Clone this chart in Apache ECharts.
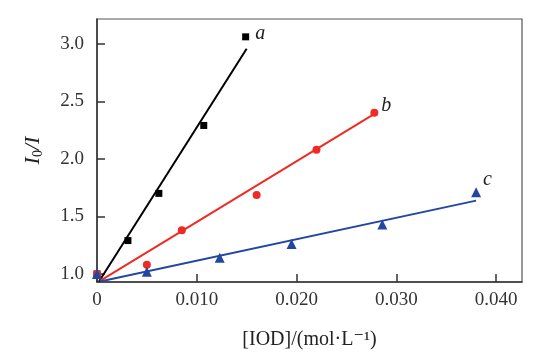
<!DOCTYPE html>
<html>
<head>
<meta charset="utf-8">
<script src="https://cdn.jsdelivr.net/npm/echarts@6/dist/echarts.min.js"></script>
<style>html,body{margin:0;padding:0;background:#fff}#c{width:543px;height:360px}</style>
</head>
<body>
<div id="c"></div>
<script>
var xTicks = [0, 0.010, 0.020, 0.030, 0.040];
var yTicks = [1.0, 1.5, 2.0, 2.5, 3.0];
var aPoints = [[0, 1.0], [0.0031, 1.29], [0.0062, 1.70], [0.0107, 2.29], [0.0149, 3.06]];
var bPoints = [[0, 1.0], [0.0050, 1.08], [0.0085, 1.38], [0.0160, 1.685], [0.0220, 2.08], [0.0278, 2.40]];
var cPoints = [[0, 1.0], [0.0050, 1.02], [0.0123, 1.14], [0.0195, 1.26], [0.0286, 1.43], [0.0380, 1.71]];
var aFit = [[0.0002, 0.935], [0.0150, 2.956]];
var bFit = [[0.0003, 0.94], [0.0276, 2.38]];
var cFit = [[0.0003, 0.935], [0.0380, 1.637]];
var seriesNames = ['a', 'b', 'c'];
var colors = ['#000000', '#ee2b25', '#2346a0'];

var chart = echarts.init(document.getElementById('c'));
var serif = '"Liberation Serif","DejaVu Serif",serif';
function pts(arr, idx, sym, size, lblOffset) {
  return {
    type: 'scatter',
    symbol: sym,
    symbolSize: size,
    itemStyle: {color: colors[idx], opacity: 1},
    z: 3,
    data: arr.map(function (p, i) {
      var d = {value: p};
      if (i === arr.length - 1) {
        d.label = {
          show: true, formatter: seriesNames[idx], position: 'right',
          offset: lblOffset, color: '#222', fontFamily: serif,
          fontStyle: 'italic', fontSize: 20
        };
      }
      return d;
    })
  };
}
function fit(arr, idx) {
  return {
    type: 'line', data: arr, showSymbol: false, symbol: 'none',
    lineStyle: {color: colors[idx], width: 2}, z: 2, silent: true
  };
}
chart.setOption({
  animation: false,
  grid: {left: 97, right: 21, top: 19, bottom: 78, show: true, borderColor: '#555', borderWidth: 1.2},
  xAxis: {
    type: 'value', min: 0, max: 0.0426,
    name: '[IOD]/(mol·L\u207B\u00B9)', nameLocation: 'middle', nameGap: 48,
    nameTextStyle: {fontFamily: serif, fontSize: 20, color: '#222'},
    axisLine: {show: true, lineStyle: {color: '#333', width: 1.5}},
    axisTick: {show: true, inside: true, length: 8, customValues: xTicks, lineStyle: {color: '#333', width: 1.5}},
    axisLabel: {customValues: xTicks, fontFamily: serif, fontSize: 19, color: '#333', margin: 9,
      formatter: function (v) { return v === 0 ? '0' : v.toFixed(3); }},
    splitLine: {show: false}
  },
  yAxis: {
    type: 'value', min: 0.93, max: 3.215,
    name: '{i|I}{s|0}{i|/I}', nameLocation: 'middle', nameGap: 52,
    nameTextStyle: {rich: {
      i: {fontFamily: serif, fontStyle: 'italic', fontWeight: 'normal', fontSize: 22, color: '#222'},
      s: {fontFamily: serif, fontWeight: 'normal', fontSize: 14, color: '#222', verticalAlign: 'bottom', padding: [10, 0, 0, 0]}
    }},
    axisLine: {show: true, lineStyle: {color: '#333', width: 1.5}},
    axisTick: {show: true, inside: true, length: 8, customValues: yTicks, lineStyle: {color: '#333', width: 1.5}},
    axisLabel: {customValues: yTicks, fontFamily: serif, fontSize: 19, color: '#333', margin: 13,
      formatter: function (v) { return v.toFixed(1); }},
    splitLine: {show: false}
  },
  series: [
    fit(aFit, 0), fit(bFit, 1), fit(cFit, 2),
    pts(aPoints, 0, 'rect', 7, [1, -3]),
    pts(bPoints, 1, 'circle', 8, [-2, -7]),
    pts(cPoints, 2, 'triangle', 10, [-3, -12])
  ]
});
</script>
</body>
</html>
